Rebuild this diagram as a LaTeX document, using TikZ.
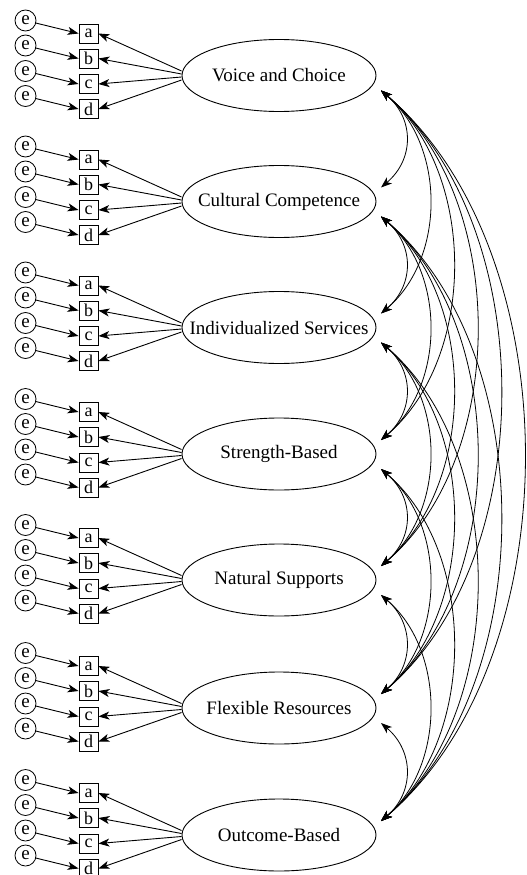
\documentclass[tikz,border=0pt]{standalone}
\usepackage{fontspec}
\setmainfont{Liberation Serif}
\usetikzlibrary{arrows.meta,shapes.geometric,calc}
\begin{document}
\begin{tikzpicture}[x=1pt,y=-1pt,
  lat/.style={ellipse,draw,line width=0.9pt,minimum width=194pt,minimum height=72pt,inner sep=0pt},
  latlab/.style={inner sep=0pt,font=\fontsize{19}{20}\selectfont},
  ind/.style={rectangle,draw,line width=0.8pt,minimum width=19pt,minimum height=19pt,inner sep=0pt,font=\fontsize{18}{18}\selectfont},
  err/.style={circle,draw,line width=0.8pt,minimum size=21pt,inner sep=0pt,font=\fontsize{19}{19}\selectfont},
  arr/.style={line width=0.9pt,-{Stealth[length=11pt,width=8pt,inset=3pt]}},
  cov/.style={line width=0.8pt,{Stealth[length=11pt,width=8pt,inset=3pt]}-{Stealth[length=11pt,width=8pt,inset=3pt]}}]
\useasboundingbox (0,0) rectangle (527,875);
\foreach \n/\yc/\lab in {1/75.5/Voice and Choice, 2/201.5/Cultural Competence, 3/327.5/Individualized Services, 4/454/Strength-Based, 5/580/Natural Supports, 6/708/Flexible Resources, 7/835/Outcome-Based}{
  \node[lat] (F\n) at (279,\yc) {};
  \node[latlab] (L\n) at (F\n.center) {\lab};
  \foreach \s/\dy/\oy in {a/-42/-4.5, b/-17/-1.5, c/8.5/1.5, d/33.5/4.5}{
    \node[ind] (I\n\s) at (88.5,\yc+\dy) {\s};
    \node[err] (E\n\s) at (25.5,\yc+\dy-13) {e};
    \draw[arr] (E\n\s) -- (I\n\s.west);
    \draw[arr] ($(F\n.west)+(0,\oy)$) -- (I\n\s.east);
  }
}
\foreach \i in {1,...,6}{
  \pgfmathtruncatemacro\ip{\i+1}
  \foreach \j in {\ip,...,7}{
    \pgfmathsetmacro\h{(25+(\j-\i-1)*23.6)/0.75}
    \pgfmathsetmacro\v{0.85*\h}
    \draw[cov] ($(F\i.center)+(102,15)$) .. controls ($(F\i.center)+(102+\h,15+\v)$) and ($(F\j.center)+(102+\h,-14-\v)$) .. ($(F\j.center)+(102,-14)$);
  }
}
\end{tikzpicture}
\end{document}
